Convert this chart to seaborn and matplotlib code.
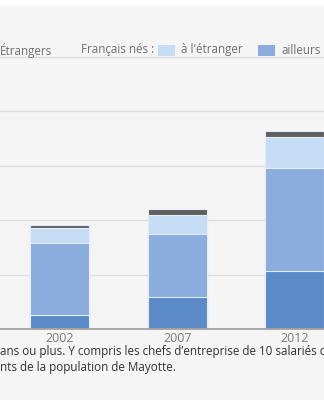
import matplotlib
matplotlib.use("Agg")
import matplotlib.pyplot as plt
from matplotlib.patches import Rectangle
import numpy as np
import pandas as pd
import seaborn as sns

# Cadres by place of birth, stacked from bottom to top
years = ["2002", "2007", "2012"]
nes_mayotte = [260, 585, 1075]
nes_ailleurs = [1320, 1165, 1885]
nes_etranger = [275, 350, 570]
etrangers = [60, 105, 115]

series_order = ["nes_mayotte", "nes_ailleurs", "nes_etranger", "etrangers"]
series_colors = {
    "nes_mayotte": "#5b8ac8",
    "nes_ailleurs": "#8badde",
    "nes_etranger": "#c6ddf5",
    "etrangers": "#5f5f5f",
}

legend_prefix = "Français nés :"
legend_labels = {"etrangers": "Étrangers", "nes_etranger": "à l'étranger", "nes_ailleurs": "ailleurs"}
footnote_lines = [
    "ans ou plus. Y compris les chefs d’entreprise de 10 salariés c",
    "nts de la population de Mayotte.",
]

df = pd.DataFrame({
    "annee": years,
    "nes_mayotte": nes_mayotte,
    "nes_ailleurs": nes_ailleurs,
    "nes_etranger": nes_etranger,
    "etrangers": etrangers,
})
cum = df[series_order].cumsum(axis=1)

sns.set_theme(style="white")
plt.rcParams["font.family"] = ["Open Sans", "DejaVu Sans"]

W, H = 324, 400
BG = "#f5f5f5"
fig = plt.figure(figsize=(W / 100, H / 100), dpi=100, facecolor=BG)


def fx(px):
    return px / W


def fy(py):
    return 1 - py / H


# white strip along the top edge
fig.patches.append(Rectangle((0, fy(6)), 1, 6 / H, transform=fig.transFigure,
                             facecolor="white", edgecolor="none", zorder=0))

# axes: baseline at y=329 px, 54.4 px per 1000
ppu = 54.4 / 1000
ymax = 5100
base_px = 329
top_px = base_px - ymax * ppu
ax = fig.add_axes([0, fy(base_px), 1, (base_px - top_px) / H])
ax.set_facecolor("none")

# stacked bars: draw cumulative totals from the top layer downwards
for name in reversed(series_order):
    sns.barplot(data=cum.assign(annee=df["annee"]), x="annee", y=name,
                color=series_colors[name], saturation=1, width=0.5,
                edgecolor="#e3edf9", linewidth=0.8, ax=ax, zorder=3)

ax.set_ylim(0, ymax)
ax.set_xlim(-59.5 / 117.7, (W - 59.5) / 117.7)
ax.set_yticks(np.arange(0, 5001, 1000))
ax.yaxis.grid(True, color="#dcdcdc", linewidth=1.0, zorder=0)
ax.set_axisbelow(True)
ax.tick_params(axis="y", left=False, labelleft=False, length=0)
ax.tick_params(axis="x", bottom=False, length=0, pad=2.5, labelsize=9,
               labelcolor="#7a7a7a")
ax.set_xlabel("")
ax.set_ylabel("")
for side in ["left", "right", "top"]:
    ax.spines[side].set_visible(False)
ax.spines["bottom"].set_color("#a3a3a3")
ax.spines["bottom"].set_linewidth(1.3)
ax.spines["bottom"].set_zorder(5)

# legend row
leg_y = 50
txt_kw = dict(fontsize=8.4, color="#707070", va="center", ha="left")
fig.text(fx(0), fy(leg_y), legend_labels["etrangers"], **txt_kw)
fig.text(fx(81), fy(leg_y), legend_prefix, **txt_kw)
for x0, name in [(158, "nes_etranger"), (258, "nes_ailleurs")]:
    fig.patches.append(Rectangle((fx(x0), fy(leg_y + 5.5)), 17 / W, 11 / H,
                                 transform=fig.transFigure,
                                 facecolor=series_colors[name], edgecolor="none"))
    fig.text(fx(x0 + 23), fy(leg_y), legend_labels[name], **txt_kw)

# footnote
for i, line in enumerate(footnote_lines):
    fig.text(fx(0), fy(352 + 16 * i), line, fontsize=8.4, color="#333333",
             va="center", ha="left")

fig.savefig("out.png", dpi=100, facecolor=BG)
